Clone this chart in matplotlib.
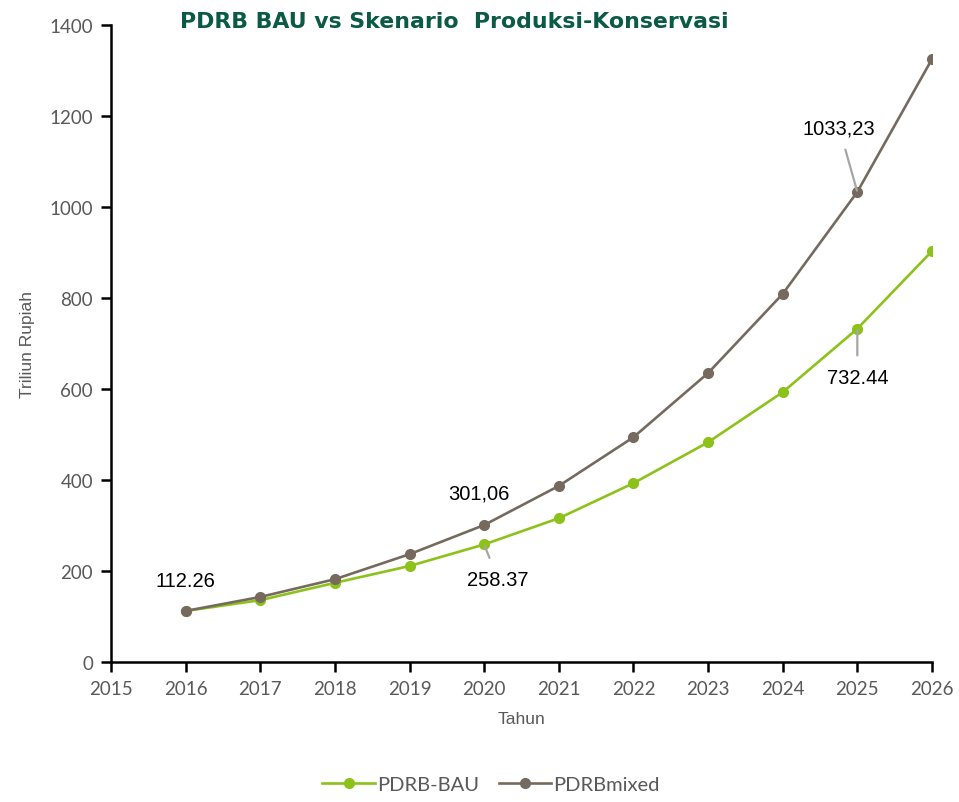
import matplotlib
matplotlib.use("Agg")
import matplotlib.pyplot as plt

years = [2016, 2017, 2018, 2019, 2020, 2021, 2022, 2023, 2024, 2025, 2026]
pdrb_bau = [112.26, 136, 174, 211, 258.37, 316, 393, 483, 593, 732.44, 903]
pdrb_mixed = [112.26, 143, 182, 237, 301.06, 387, 494, 635, 809, 1033.23, 1325]

# (index, series, label text, offset in points, leader line?)
labels = [
    (0, "mixed", "112.26", (0, 22), False),
    (4, "bau", "258.37", (10, -25), True),
    (4, "mixed", "301,06", (-4, 23), False),
    (9, "mixed", "1033,23", (-13, 46), True),
    (9, "bau", "732.44", (0, -35), True),
]

GREEN = "#8cc21a"
BROWN = "#766a5f"
GREY = "#595959"

plt.rcParams["font.family"] = ["Lato", "DejaVu Sans"]

fig = plt.figure(figsize=(9.59, 8.03), dpi=100)
ax = fig.add_axes([0.1157, 0.1743, 0.8561, 0.7933])

ax.plot(years, pdrb_bau, color=GREEN, lw=1.9, marker="o", ms=7, label="PDRB-BAU")
ax.plot(years, pdrb_mixed, color=BROWN, lw=1.9, marker="o", ms=7, label="PDRBmixed")

series = {"bau": pdrb_bau, "mixed": pdrb_mixed}
for i, key, txt, off, line in labels:
    props = None
    if line:
        props = dict(arrowstyle="-", color="#a6a6a6", lw=1.6, shrinkA=7, shrinkB=1)
    ax.annotate(txt, (years[i], series[key][i]), xytext=off, textcoords="offset points",
                ha="center", va="center", fontsize=14.5, family="Liberation Sans",
                color="black", arrowprops=props)

ax.set_xlim(2015, 2026)
ax.set_ylim(0, 1400)
ax.set_xticks(range(2015, 2027))
ax.set_yticks(range(0, 1401, 200))
for s in ["top", "right"]:
    ax.spines[s].set_visible(False)
for s in ["left", "bottom"]:
    ax.spines[s].set_linewidth(1.8)
ax.tick_params(axis="both", direction="out", length=7, width=1.8, labelsize=13.5,
               labelcolor=GREY, pad=6)
ax.set_xlabel("Tahun", fontsize=12.5, color=GREY, labelpad=10, family="Liberation Sans")
ax.set_ylabel("Triliun Rupiah", fontsize=12.5, color=GREY, labelpad=10, family="Liberation Sans")

fig.text(0.474, 0.972, "PDRB BAU vs Skenario  Produksi-Konservasi", ha="center", va="center",
         fontsize=15.8, fontweight="bold", color="#0b5a45", family="DejaVu Sans")

fig.legend(loc="center", bbox_to_anchor=(0.512, 0.022), ncol=2, frameon=False,
           fontsize=14.5, labelcolor=GREY, handlelength=2.6, handletextpad=0.1,
           columnspacing=1.0)

fig.savefig("out.png", dpi=100)
